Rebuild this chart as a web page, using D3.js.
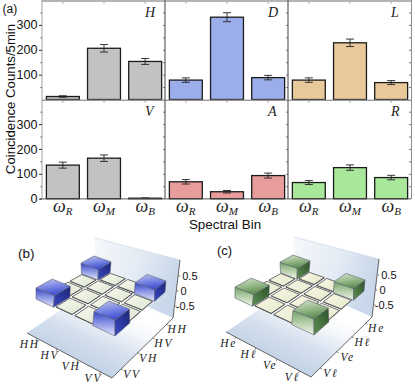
<!DOCTYPE html>
<html>
<head>
<meta charset="utf-8">
<script src="https://cdnjs.cloudflare.com/ajax/libs/d3/7.8.5/d3.min.js"></script>
<style>
html, body { margin: 0; padding: 0; background: #fff; }
svg { display: block; }
text { font-family: "Liberation Sans", Arial, sans-serif; fill: #111; }
.math { font-family: "Liberation Serif", serif; font-style: italic; font-weight: normal; fill: #222; }
.domain { display: none; }
</style>
</head>
<body>
<svg id="chart" width="415" height="385"></svg>
<script>
// counts
var bins = ['R', 'M', 'B'];
var panels = ['H', 'D', 'L', 'V', 'A', 'R'];
var panelColors = ['#c2c2c2', '#9badea', '#e9c99b', '#e89c9c', '#a9e89b'];
var colorOfPanel = [0, 1, 2, 0, 3, 4];
var countsH = [12, 206, 153];
var countsD = [78, 331, 88];
var countsL = [78, 228, 68];
var countsV = [135, 163, 2];
var countsA = [68, 28, 93];
var countsR = [65, 125, 85];
var errorsH = [3, 15, 12];
var errorsD = [9, 18, 9];
var errorsL = [9, 15, 8];
var errorsV = [12, 13, 1];
var errorsA = [9, 5, 10];
var errorsR = [8, 11, 9];
var allCounts = [countsH, countsD, countsL, countsV, countsA, countsR];
var allErrors = [errorsH, errorsD, errorsL, errorsV, errorsA, errorsR];

var yTicks = [100, 200, 300];
var yMinor = [50, 150, 250, 350];

// density matrices, row then column
var rhoB = [
  [0.50, 0.01, 0.01, 0.50],
  [0.01, 0.01, 0.01, 0.01],
  [0.01, 0.01, 0.01, 0.01],
  [0.50, 0.01, 0.01, 0.50]
];
var rhoC = [
  [0.50, 0.01, 0.01, 0.50],
  [0.01, 0.01, 0.01, 0.01],
  [0.01, 0.01, 0.01, 0.01],
  [0.50, 0.01, 0.01, 0.50]
];
var labelsB = [['H', 'H'], ['H', 'V'], ['V', 'H'], ['V', 'V']];
var labelsC = [['H', 'e'], ['H', 'ℓ'], ['V', 'e'], ['V', 'ℓ']];
var zTicks = [-0.5, 0, 0.5];

var svg = d3.select('#chart');
var defs = svg.append('defs');

//top bar panels
var xPanel = d3.scaleBand().domain(d3.range(3)).range([42, 411]).padding(0);
var rowBase = [99.5, 198.7];

var rows = [0, 1].map(function (r) {
  return d3.scaleLinear().domain([0, 300]).range([rowBase[r], rowBase[r] - 74.6]);
});

panels.forEach(function (name, p) {
  var col = p % 3, row = Math.floor(p / 3);
  var y = rows[row];
  var x0 = xPanel(col), w = xPanel.bandwidth();
  var x = d3.scaleBand().domain(d3.range(3)).range([x0 + 1.5, x0 + w - 0.5]).paddingInner(0.2).paddingOuter(0.07);
  var g = svg.append('g').attr('class', 'panel');
  var fill = panelColors[colorOfPanel[p]];

  g.selectAll('rect.bar').data(allCounts[p]).enter().append('rect')
    .attr('class', 'bar')
    .attr('x', function (d, i) { return x(i); })
    .attr('width', x.bandwidth())
    .attr('y', function (d) { return y(d); })
    .attr('height', function (d) { return y(0) - y(d); })
    .attr('fill', fill)
    .attr('stroke', '#1c1c1c')
    .attr('stroke-width', 1.3);

  var err = g.selectAll('g.err').data(allCounts[p]).enter().append('g').attr('class', 'err');
  var cx = function (i) { return x(i) + x.bandwidth() / 2; };
  err.append('line')
    .attr('x1', function (d, i) { return cx(i); }).attr('x2', function (d, i) { return cx(i); })
    .attr('y1', function (d, i) { return y(d - allErrors[p][i]); })
    .attr('y2', function (d, i) { return y(d + allErrors[p][i]); });
  err.append('line')
    .attr('x1', function (d, i) { return cx(i) - 4; }).attr('x2', function (d, i) { return cx(i) + 4; })
    .attr('y1', function (d, i) { return y(d - allErrors[p][i]); })
    .attr('y2', function (d, i) { return y(d - allErrors[p][i]); });
  err.append('line')
    .attr('x1', function (d, i) { return cx(i) - 4; }).attr('x2', function (d, i) { return cx(i) + 4; })
    .attr('y1', function (d, i) { return y(d + allErrors[p][i]); })
    .attr('y2', function (d, i) { return y(d + allErrors[p][i]); });
  err.selectAll('line').attr('stroke', '#222').attr('stroke-width', 0.9);

  // letter in the corner
  g.append('text').attr('class', 'math')
    .attr('x', x0 + w - 20).attr('y', y(0) - 83)
    .attr('font-size', 14)
    .text(name);

  // right hand ticks
  var rightAxis = d3.axisLeft(y).tickValues(yTicks.concat(yMinor)).tickSize(2).tickFormat('');
  g.append('g').attr('transform', 'translate(' + (x0 + w) + ',0)').call(rightAxis)
    .selectAll('line').attr('stroke', '#777');

  // bottom and top ticks at bar centres
  g.selectAll('line.xt').data(d3.range(3)).enter().append('line')
    .attr('x1', cx).attr('x2', cx)
    .attr('y1', y(0) - 100 + 2).attr('y2', y(0) - 100 + 4)
    .attr('stroke', '#777').attr('stroke-width', 0.8);

  // omega labels under the lower row
  if (row === 1) {
    var t = g.selectAll('text.bin').data(bins).enter().append('text')
      .attr('class', 'math bin')
      .attr('x', function (d, i) { return cx(i); })
      .attr('y', 212)
      .attr('text-anchor', 'middle')
      .attr('font-size', 18);
    t.append('tspan').text('ω');
    t.append('tspan').attr('font-size', 11).attr('dy', 3).text(function (d) { return d; });
  }
});

// frame lines
var frameColor = '#8e8e8e';
svg.append('rect').attr('x', 42).attr('y', 0).attr('width', 369).attr('height', 2).attr('fill', '#b5b5b5');
svg.append('rect').attr('x', 42).attr('y', 99.6).attr('width', 369).attr('height', 1.4).attr('fill', '#999');
svg.append('line').attr('x1', 40).attr('x2', 411).attr('y1', 198.9).attr('y2', 198.9).attr('stroke', '#555').attr('stroke-width', 1);
[42, 165, 288].forEach(function (vx, i) {
  svg.append('line').attr('x1', vx).attr('x2', vx).attr('y1', 0).attr('y2', 199)
    .attr('stroke', i === 0 ? '#a0a0a0' : '#606060').attr('stroke-width', i === 0 ? 1 : 1.2);
});
svg.append('line').attr('x1', 411.5).attr('x2', 411.5).attr('y1', 0).attr('y2', 199).attr('stroke', frameColor);

// left axes
rows.forEach(function (y, r) {
  var major = d3.axisLeft(y).tickValues(r === 0 ? yTicks : [0].concat(yTicks)).tickSize(3).tickPadding(1.5).tickFormat(d3.format('d'));
  var gMajor = svg.append('g').attr('transform', 'translate(42,0)').call(major);
  gMajor.selectAll('line').attr('stroke', '#333');
  gMajor.selectAll('text').attr('font-size', 12.6).attr('font-family', '"Liberation Sans", Arial, sans-serif').attr('fill', '#111');
  var minor = d3.axisLeft(y).tickValues(yMinor).tickSize(1.5).tickFormat('');
  svg.append('g').attr('transform', 'translate(42,0)').call(minor).selectAll('line').attr('stroke', '#555');
});

svg.append('text').attr('transform', 'translate(15,99) rotate(-90)')
  .attr('text-anchor', 'middle').attr('font-size', 13.2).text('Coincidence Counts/5min');
svg.append('text').attr('x', 225).attr('y', 229).attr('text-anchor', 'middle').attr('font-size', 13.4).text('Spectral Bin');
svg.append('text').attr('x', 2.5).attr('y', 13).attr('font-size', 12).text('(a)');
svg.append('text').attr('x', 18).attr('y', 258).attr('font-size', 13.5).text('(b)');
svg.append('text').attr('x', 217).attr('y', 255).attr('font-size', 13).text('(c)');

// 3d part ---------------------------------------------------------

// unit square to quad, order (0,0) (1,0) (1,1) (0,1)
var makeHomography = function (q) {
  var dx1 = q[1][0] - q[2][0], dx2 = q[3][0] - q[2][0], sx = q[0][0] - q[1][0] + q[2][0] - q[3][0];
  var dy1 = q[1][1] - q[2][1], dy2 = q[3][1] - q[2][1], sy = q[0][1] - q[1][1] + q[2][1] - q[3][1];
  var det = dx1 * dy2 - dx2 * dy1;
  var g = (sx * dy2 - dx2 * sy) / det, h = (dx1 * sy - sx * dy1) / det;
  var a = q[1][0] - q[0][0] + g * q[1][0], b = q[3][0] - q[0][0] + h * q[3][0], c = q[0][0];
  var d = q[1][1] - q[0][1] + g * q[1][1], e = q[3][1] - q[0][1] + h * q[3][1], f = q[0][1];
  return function (u, v) {
    var w = g * u + h * v + 1;
    return [(a * u + b * v + c) / w, (d * u + e * v + f) / w];
  };
};

var floorQuad = [[27, 333], [112, 378], [173, 318], [97, 285]];
var wallQuad = [[97, 285], [173, 318], [180, 260], [95, 238]];
var planeQuad = [[36, 299], [115, 336], [165, 292], [94, 267]];
var topQuad = [[36, 288], [115, 320], [166, 281], [94, 256]];

var floorAt = makeHomography(floorQuad);
var planeAt = makeHomography(planeQuad);
var topAt = makeHomography(topQuad);

var gradient = function (id, x1, y1, x2, y2, stops, user) {
  var gr = defs.append('linearGradient').attr('id', id)
    .attr('x1', x1).attr('y1', y1).attr('x2', x2).attr('y2', y2);
  if (user) gr.attr('gradientUnits', 'userSpaceOnUse');
  stops.forEach(function (s) {
    gr.append('stop').attr('offset', s[0]).attr('stop-color', s[1]);
  });
};

gradient('wallFill', 0, 0, 1, 0.35, [[0, '#f6f8fb'], [0.55, '#e4ebf4'], [1, '#c8d7ea']]);
gradient('floorFill', 70, 365, 100, 300, [[0, '#bfcfe4'], [0.45, '#d5e0ee'], [0.8, '#f6f8fb'], [1, '#ffffff']], true);

var palettes = {
  b: { top: ['#c4caf0', '#7f8be4', '#3f50d2'], left: ['#3343c8', '#8f9ae6', '#e4e6fa'], right: ['#1d2578', '#3a49c0'],
       tileA: '#f8f9ee', tileB: '#dde6d3' },
  c: { top: ['#d8e5cf', '#9dbd90', '#5f8f53'], left: ['#74a067', '#b4cfa9', '#f0f5ea'], right: ['#2c5128', '#5f9053'],
       tileA: '#faf8e6', tileB: '#e4e8cc' }
};
Object.keys(palettes).forEach(function (k) {
  var p = palettes[k];
  gradient(k + 'Top', 0, 0, 0.3, 1, [[0, p.top[0]], [0.5, p.top[1]], [1, p.top[2]]]);
  gradient(k + 'Left', 0, 0, 0, 1, [[0, p.left[0]], [0.5, p.left[1]], [1, p.left[2]]]);
  gradient(k + 'Right', 1, 0, 0, 1, [[0, p.right[0]], [1, p.right[1]]]);
  gradient(k + 'Tile', 0, 0, 1, 1, [[0, p.tileA], [1, p.tileB]]);
});

var lineGen = d3.line();
var closedPath = function (pts) { return lineGen(pts) + 'Z'; };

var drawCube = function (key, rho, labels, dx, dy) {
  var g = svg.append('g').attr('transform', 'translate(' + dx + ',' + dy + ')');

  g.append('path').attr('d', closedPath(wallQuad)).attr('fill', 'url(#wallFill)');
  g.append('path').attr('d', closedPath(floorQuad)).attr('fill', 'url(#floorFill)');
  g.append('line').attr('x1', wallQuad[0][0]).attr('y1', wallQuad[0][1]).attr('x2', wallQuad[3][0]).attr('y2', wallQuad[3][1])
    .attr('stroke', '#f0f3f8').attr('stroke-width', 0.6);
  g.append('line').attr('x1', wallQuad[3][0]).attr('y1', wallQuad[3][1]).attr('x2', wallQuad[2][0]).attr('y2', wallQuad[2][1])
    .attr('stroke', '#cfd8e6').attr('stroke-width', 0.7);

  // edges and ticks
  g.append('path').attr('d', lineGen([floorQuad[0], floorQuad[1], floorQuad[2], wallQuad[2]]))
    .attr('fill', 'none').attr('stroke', '#555').attr('stroke-width', 0.9);

  var uScale = d3.scaleBand().domain(d3.range(4)).range([0, 1]);
  var vScale = d3.scaleBand().domain(d3.range(4)).range([1, 0]);
  var step = uScale.bandwidth();

  var ticksU = g.append('g'), ticksV = g.append('g');
  labels.forEach(function (lab, i) {
    var pu = floorAt(uScale(i) + step / 2, 0);
    var pv = floorAt(1, vScale(i) + step / 2);
    ticksU.append('line').attr('x1', pu[0]).attr('y1', pu[1]).attr('x2', pu[0] - 1).attr('y2', pu[1] + 2).attr('stroke', '#555').attr('stroke-width', 0.7);
    ticksV.append('line').attr('x1', pv[0]).attr('y1', pv[1]).attr('x2', pv[0] + 2).attr('y2', pv[1] + 1).attr('stroke', '#555').attr('stroke-width', 0.7);
    [[ticksU, pu[0] - 7, pu[1] + 10], [ticksV, pv[0] + 11, pv[1] + 9]].forEach(function (o) {
      o[0].append('text').attr('class', 'math')
        .attr('x', o[1]).attr('y', o[2])
        .attr('text-anchor', 'middle')
        .attr('font-size', 11.5).attr('letter-spacing', 1.8)
        .text(lab.join(''));
    });
  });

  // bars, back to front
  var cells = [];
  rho.forEach(function (row, i) {
    row.forEach(function (val, j) { cells.push({ i: i, j: j, val: val }); });
  });
  cells.sort(function (a, b) { return (a.i + a.j) - (b.i + b.j); });

  cells.forEach(function (c) {
    var big = c.val > 0.1;
    // flat tiles sit inside their cell, white gap shows between them
    var inset = big ? 0 : step * 0.07;
    var u0 = uScale(c.i) + inset, u1 = uScale(c.i) + step - inset;
    var v0 = vScale(c.j) + inset, v1 = vScale(c.j) + step - inset;
    var frac = c.val / 0.5;
    var raise = function (u, v) {
      var a = planeAt(u, v), b = topAt(u, v);
      return [a[0] + (b[0] - a[0]) * frac, a[1] + (b[1] - a[1]) * frac];
    };
    var edge = big ? '#5c5f70' : '#4c4c4c';
    var ew = big ? 0.6 : 0.8;
    g.append('path').attr('d', closedPath([planeAt(u0, v0), planeAt(u1, v0), raise(u1, v0), raise(u0, v0)]))
      .attr('fill', 'url(#' + key + 'Left)').attr('stroke', edge).attr('stroke-width', ew);
    g.append('path').attr('d', closedPath([planeAt(u1, v0), planeAt(u1, v1), raise(u1, v1), raise(u1, v0)]))
      .attr('fill', 'url(#' + key + 'Right)').attr('stroke', edge).attr('stroke-width', ew);
    g.append('path').attr('d', closedPath([raise(u0, v0), raise(u1, v0), raise(u1, v1), raise(u0, v1)]))
      .attr('fill', 'url(#' + key + (big ? 'Top' : 'Tile') + ')').attr('stroke', edge).attr('stroke-width', ew);
  });

  // z axis on the wall edge
  var z = d3.scaleLinear().domain([-1, 1]).range([321, 261]);
  var zx = d3.scaleLinear().domain([-1, 1]).range([wallQuad[1][0], wallQuad[2][0]]);
  zTicks.forEach(function (t) {
    g.append('line').attr('x1', zx(t)).attr('x2', zx(t) + 2).attr('y1', z(t)).attr('y2', z(t))
      .attr('stroke', '#555').attr('stroke-width', 0.7);
    g.append('text').attr('x', zx(t) + (t < 0 ? 1 : 4)).attr('y', z(t) + 4)
      .attr('font-size', 11).text(t);
  });
};

drawCube('b', rhoB, labelsB, 0, 0);
drawCube('c', rhoC, labelsC, 199, -1);
</script>
</body>
</html>
